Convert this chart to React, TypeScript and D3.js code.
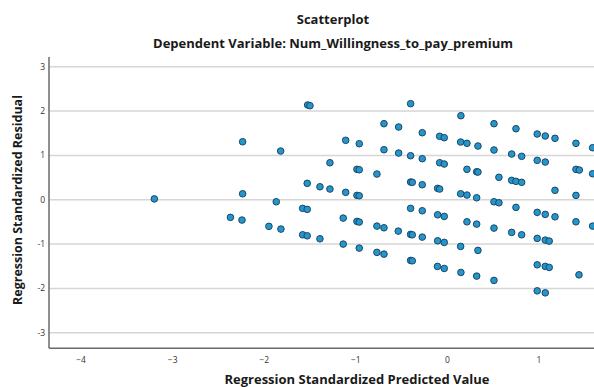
import React from "react";
import * as d3 from "d3";

const titleText = "Scatterplot";
const subtitleText = "Dependent Variable: Num_Willingness_to_pay_premium";
const xLabel = "Regression Standardized Predicted Value";
const yLabel = "Regression Standardized Residual";

const xTicks = [-4, -3, -2, -1, 0, 1];
const yTicks = [-3, -2, -1, 0, 1, 2, 3];

const predicted = [
  -3.2, -2.236, -2.236, -2.369, -2.243, -1.949, -1.818, -1.869, -1.821, -1.526,
  -1.501, -1.531, -1.392, -1.283, -1.283, -1.581, -1.531, -1.581, -1.531, -1.392,
  -1.111, -0.963, -1.111, -0.988, -0.963, -0.988, -0.963, -1.138, -0.988, -0.963,
  -1.138, -0.963, -0.77, -0.693, -0.533, -0.693, -0.533, -0.77, -0.693, -0.537,
  -0.77, -0.693, -0.402, -0.402, -0.275, -0.275, -0.402, -0.384, -0.275, -0.402,
  -0.275, -0.402, -0.384, -0.275, -0.402, -0.384, -0.085, -0.035, -0.085, -0.035,
  -0.107, -0.085, -0.107, -0.035, -0.107, -0.035, -0.109, -0.035, 0.147, 0.144,
  0.213, 0.333, 0.213, 0.319, 0.333, 0.144, 0.213, 0.319, 0.213, 0.319,
  0.144, 0.333, 0.147, 0.319, 0.508, 0.508, 0.562, 0.508, 0.562, 0.508,
  0.508, 0.748, 0.701, 0.81, 0.701, 0.748, 0.81, 0.748, 0.701, 0.81,
  0.98, 1.068, 1.174, 0.98, 1.068, 1.174, 0.98, 1.068, 1.174, 0.98,
  1.068, 1.111, 0.98, 1.068, 1.111, 0.98, 1.068, 1.403, 1.403, 1.439,
  1.403, 1.403, 1.436, 1.585, 1.585, 1.585,
];

const residual = [
  0.02, 1.309, 0.135, -0.397, -0.458, -0.6, -0.661, -0.045, 1.099, 2.138,
  2.122, 0.37, 0.293, 0.242, 0.835, -0.194, -0.217, -0.79, -0.813, -0.88,
  1.341, 1.264, 0.167, 0.099, 0.09, 0.686, 0.677, -0.413, -0.488, -0.503,
  -1.0, -1.09, 0.58, 1.716, 1.641, 1.129, 1.054, -0.594, -0.632, -0.707,
  -1.187, -1.226, 2.167, 0.993, 1.512, 0.926, 0.4, 0.393, 0.339, -0.194,
  -0.248, -0.781, -0.79, -0.842, -1.368, -1.377, 1.431, 1.4, 0.835, 0.806,
  0.257, 0.242, -0.339, -0.375, -0.926, -0.962, -1.503, -1.549, 1.896, 1.302,
  1.273, 1.212, 0.686, 0.632, 0.625, 0.135, 0.106, 0.045, -0.497, -0.549,
  -1.052, -1.142, -1.639, -1.722, 1.716, 1.122, 0.506, -0.045, -0.068, -0.639,
  -1.819, 1.603, 1.032, 0.98, 0.438, 0.415, 0.393, -0.172, -0.736, -0.79,
  1.483, 1.438, 1.386, 0.889, 0.851, 0.212, -0.284, -0.33, -0.384, -0.871,
  -0.91, -0.932, -1.467, -1.503, -1.526, -2.054, -2.099, 1.273, 0.686, 0.67,
  0.099, -0.497, -1.693, 1.174, 0.587, -0.594,
];

const W = 594;
const H = 387;
const left = 49;
const right = 594;
const top = 57;
const bottom = 348.3;

const font = "'Open Sans', 'Liberation Sans', sans-serif";

export default function App() {
  const x = d3.scaleLinear().domain([-4.35, 1.6]).range([left, right]);
  const y = d3.scaleLinear().domain([-3.35, 3.22]).range([bottom, top]);
  const points = d3.zip(predicted, residual);

  return (
    <svg
      width={W}
      height={H}
      style={{ position: "absolute", left: 0, top: 0, background: "#fff" }}
      fontFamily={font}
    >
      <rect x={0} y={0} width={W} height={H} fill="#fff" />
      <text x={333} y={24} textAnchor="middle" fontSize={13} fontWeight="bold" fill="#1a1a1a">
        {titleText}
      </text>
      <text x={333} y={48} textAnchor="middle" fontSize={13} fontWeight="bold" fill="#1a1a1a">
        {subtitleText}
      </text>

      {yTicks.map((t) => (
        <g key={"gy" + t}>
          <line x1={left} x2={right} y1={y(t)} y2={y(t)} stroke="#d6d6d6" strokeWidth={1.5} />
          <text x={45} y={y(t)} dy="0.35em" textAnchor="end" fontSize={8.5} fill="#333">
            {t < 0 ? "-" + Math.abs(t) : String(t)}
          </text>
        </g>
      ))}

      {xTicks.map((t) => (
        <text key={"gx" + t} x={x(t)} y={363} textAnchor="middle" fontSize={8.5} fill="#333">
          {t < 0 ? "\u2212" + Math.abs(t) : String(t)}
        </text>
      ))}

      <line x1={left} x2={left} y1={top} y2={bottom} stroke="#6a6a6a" strokeWidth={1.5} />
      <line x1={left} x2={right} y1={bottom} y2={bottom} stroke="#6a6a6a" strokeWidth={1.5} />

      {points.map(([px, py], i) => (
        <circle
          key={i}
          cx={x(px)}
          cy={y(py)}
          r={3.3}
          fill="#2596cc"
          stroke="#1b4766"
          strokeWidth={1}
        />
      ))}

      <text x={357} y={384} textAnchor="middle" fontSize={13} fontWeight="bold" fill="#1a1a1a">
        {xLabel}
      </text>
      <text
        transform={`translate(22, ${200}) rotate(-90)`}
        textAnchor="middle"
        fontSize={12.5}
        fontWeight="bold"
        fill="#1a1a1a"
      >
        {yLabel}
      </text>
    </svg>
  );
}
